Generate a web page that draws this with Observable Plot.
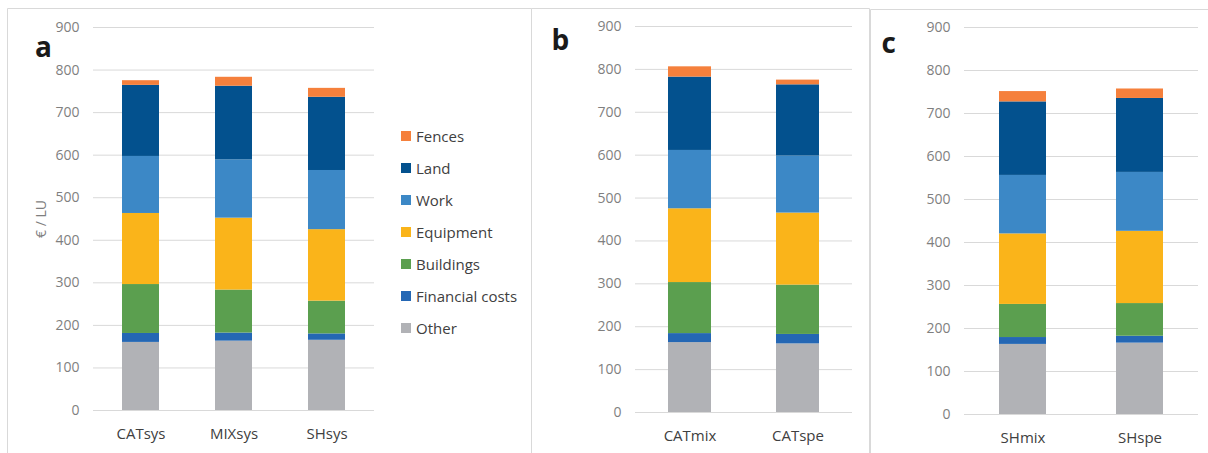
<!DOCTYPE html>
<html>
<head>
<meta charset="utf-8">
<script src="https://cdn.jsdelivr.net/npm/d3@7"></script>
<script src="https://cdn.jsdelivr.net/npm/@observablehq/plot@0.6"></script>
<style>
  body { margin: 0; background: #fff; }
  #wrap { position: relative; width: 1208px; height: 453px; overflow: hidden; font-family: "Open Sans", sans-serif; background: #fff; }
  .panel { position: absolute; top: 0; }
  .legend { position: absolute; left: 401px; top: 0; font-size: 15px; color: #404040; }
  .legend .item { position: absolute; left: 0; height: 20px; line-height: 20px; white-space: nowrap; display: flex; align-items: center; }
  .legend .sw { width: 10px; height: 10px; margin-right: 5px; flex: none; }
  #overlay { position: absolute; left: 0; top: 0; pointer-events: none; }
</style>
</head>
<body>
<div id="wrap"></div>
<script>
// ---- data ----
const categories = ["CATsys", "MIXsys", "SHsys", "CATmix", "CATspe", "SHmix", "SHspe"];
const panelA = ["CATsys", "MIXsys", "SHsys"];
const panelB = ["CATmix", "CATspe"];
const panelC = ["SHmix", "SHspe"];
const series = ["Other", "Financial costs", "Buildings", "Equipment", "Work", "Land", "Fences"];
const other      = [160, 163, 165, 163, 160, 163, 166];
const financial  = [21, 19, 15, 21, 22, 16, 16];
const buildings  = [115, 101, 77, 119, 115, 77, 76];
const equipment  = [167, 169, 168, 172, 168, 164, 168];
const work       = [134, 137, 139, 136, 133, 136, 137];
const land       = [167, 173, 172, 171, 166, 171, 172];
const fences     = [11, 21, 21, 24, 11, 24, 22];
const yTicks = [0, 100, 200, 300, 400, 500, 600, 700, 800, 900];
const colors = ["#B1B2B6", "#2467B4", "#5B9F4F", "#FAB41A", "#3C88C6", "#03518E", "#F5803C"];
const legendOrder = ["Fences", "Land", "Work", "Equipment", "Buildings", "Financial costs", "Other"];
const yLabel = "€ / LU";
const panelLetters = ["a", "b", "c"];

const values = [other, financial, buildings, equipment, work, land, fences];

const wrap = document.getElementById("wrap");

function panel(cats, o) {
  const data = [];
  for (const c of cats) {
    const i = categories.indexOf(c);
    series.forEach((s, k) => data.push({cat: c, series: s, value: values[k][i]}));
  }
  const chart = Plot.plot({
    width: o.width, height: 453,
    marginLeft: o.ml, marginRight: o.mr, marginTop: o.mt, marginBottom: o.mb,
    style: {background: "transparent", fontFamily: "'Open Sans', sans-serif", overflow: "visible"},
    x: {domain: cats, paddingInner: 0.6, paddingOuter: 0.3, label: null, axis: null},
    y: {domain: [0, 900], label: null, axis: null},
    color: {domain: series, range: colors},
    marks: [
      Plot.gridY(yTicks, {stroke: "#d9d9d9", strokeOpacity: 1, strokeWidth: 1}),
      Plot.barY(data, {x: "cat", y: "value", fill: "series", order: series}),
      Plot.axisY(yTicks, {tickSize: 0, tickPadding: 14, fontSize: 14, fill: "#7f7f7f", label: null}),
      Plot.axisX({tickSize: 0, tickPadding: 18, fontSize: 15, fill: "#404040", label: null})
    ]
  });
  chart.classList.add("panel");
  chart.style.left = o.left + "px";
  wrap.appendChild(chart);
}

panel(panelA, {left: 0, width: 380, ml: 93, mr: 6, mt: 27, mb: 43});
panel(panelB, {left: 530, width: 330, ml: 105, mr: 8, mt: 26, mb: 41});
panel(panelC, {left: 860, width: 348, ml: 104, mr: 10, mt: 27, mb: 39});

// legend
const leg = document.createElement("div");
leg.className = "legend";
legendOrder.forEach((s, i) => {
  const it = document.createElement("div");
  it.className = "item";
  it.style.top = (135.7 + 32 * i - 10) + "px";
  const sw = document.createElement("span");
  sw.className = "sw";
  sw.style.background = colors[series.indexOf(s)];
  const tx = document.createElement("span");
  tx.textContent = s;
  it.appendChild(sw); it.appendChild(tx);
  leg.appendChild(it);
});
wrap.appendChild(leg);

// overlay: panel borders, letters, y label
const svg = d3.select(wrap).append("svg").attr("id", "overlay").attr("width", 1208).attr("height", 453);
const bc = "#d9d9d9";
[[7.5, 8.5, 531.5, 8.5], [7.5, 8.5, 7.5, 453], [531.5, 8.5, 869.5, 8.5], [531.5, 8.5, 531.5, 453],
 [869.5, 8.5, 869.5, 453], [870.5, 9.5, 1208, 9.5], [870.5, 9.5, 870.5, 453]].forEach(([x1, y1, x2, y2]) => {
  svg.append("line").attr("x1", x1).attr("y1", y1).attr("x2", x2).attr("y2", y2)
    .attr("stroke", bc).attr("stroke-width", 1);
});
const letterPos = [[35, 57], [551.5, 50], [881.5, 53.3]];
panelLetters.forEach((l, i) => {
  svg.append("text").attr("x", letterPos[i][0]).attr("y", letterPos[i][1])
    .attr("font-family", "'Open Sans', sans-serif").attr("font-weight", 700).attr("font-size", 28)
    .attr("fill", "#1a1a1a").text(l);
});
svg.append("text").attr("transform", "translate(46,219) rotate(-90)").attr("text-anchor", "middle")
  .attr("font-family", "'Open Sans', sans-serif").attr("font-size", 14).attr("fill", "#7f7f7f").text(yLabel);
</script>
</body>
</html>
